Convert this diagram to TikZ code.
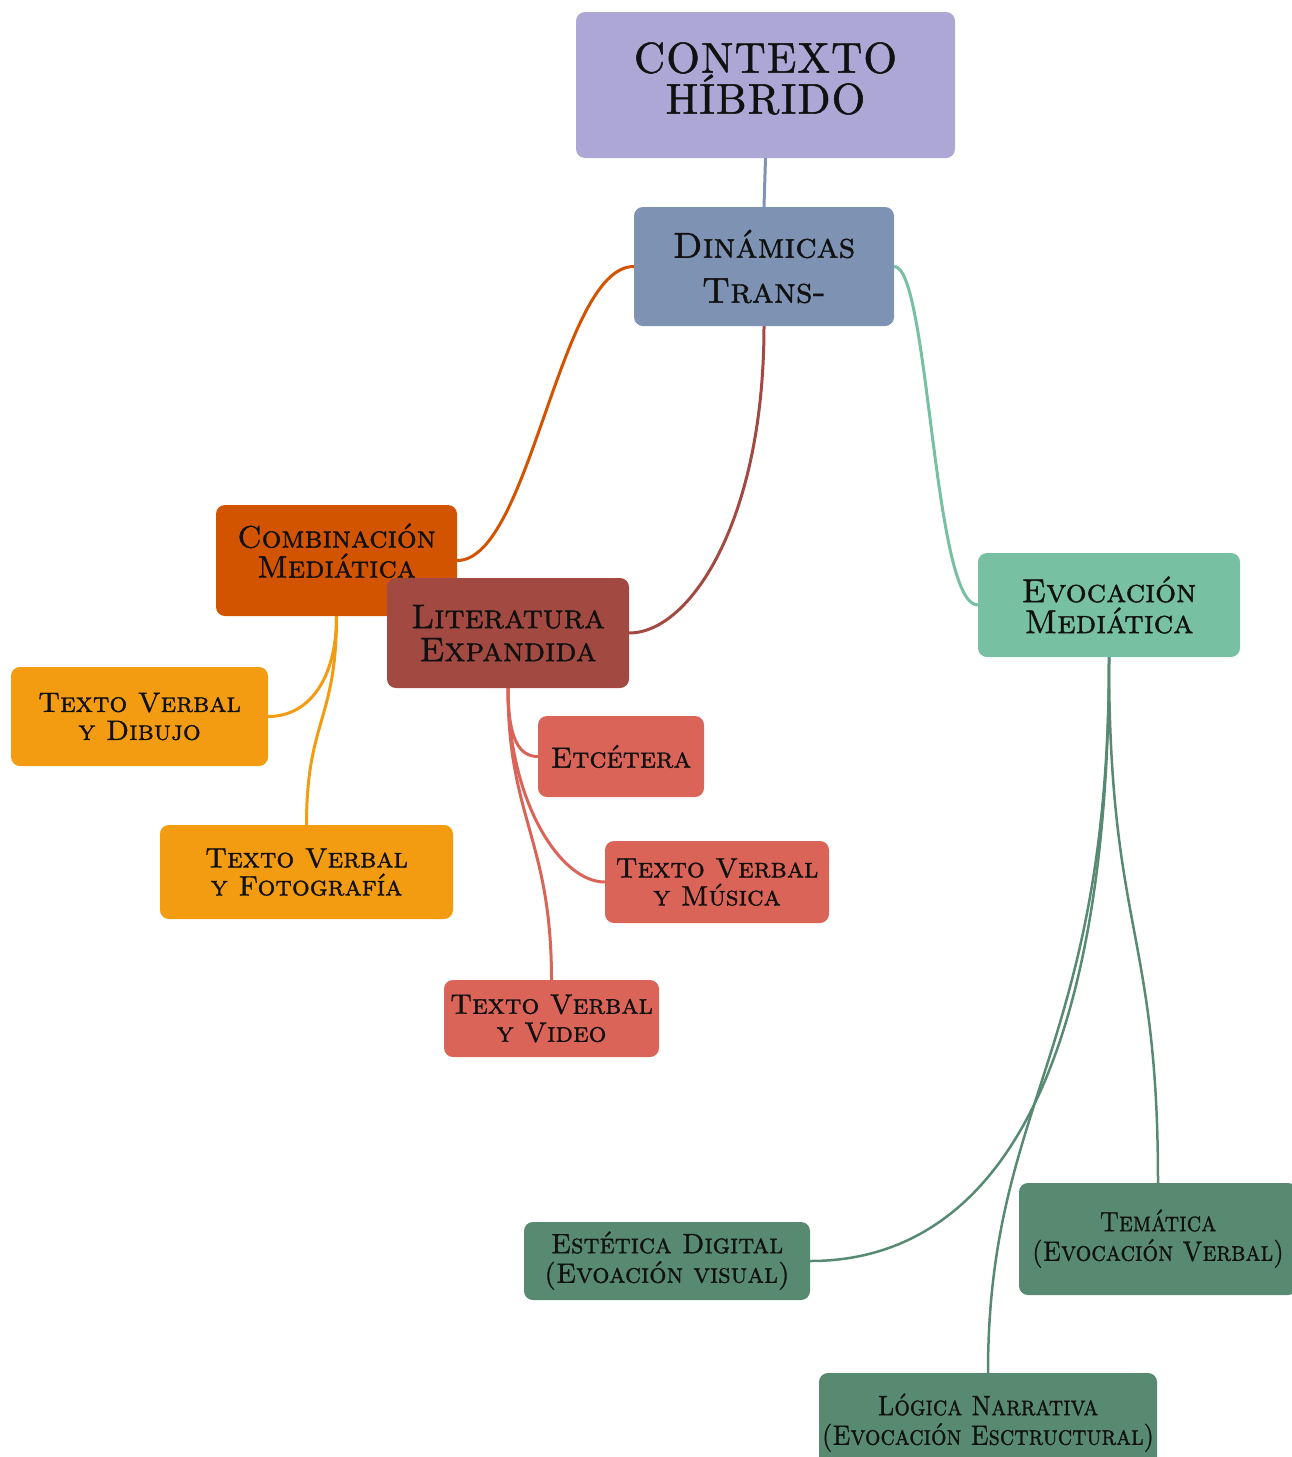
\documentclass[tikz,border=0pt]{standalone}
\usepackage{graphicx}
\usepackage{fontspec}
\newfontfamily\capsfont{lmromancaps10-regular.otf}[FakeBold=1.2]
\newfontfamily\titlefont{lmroman10-regular.otf}[FakeBold=1.2, LetterSpace=3]
\definecolor{cctx}{HTML}{ADA7D6}
\definecolor{cdyn}{HTML}{7E92B3}
\definecolor{ccom}{HTML}{D35400}
\definecolor{clit}{HTML}{A24A42}
\definecolor{cevo}{HTML}{77C0A1}
\definecolor{corg}{HTML}{F39C12}
\definecolor{cred}{HTML}{DB6459}
\definecolor{cgrn}{HTML}{578A71}
\definecolor{ctxt}{HTML}{111111}
\newcommand\condtext[2]{\scalebox{#1}[1]{\begin{tabular}{@{}c@{}}#2\end{tabular}}}
\pgfdeclarelayer{bg}
\pgfsetlayers{bg,main}
\tikzset{
  box/.style={rectangle, rounded corners=9pt, draw=none, text=ctxt, align=center, inner sep=0pt},
  link/.style={line width=3pt, line cap=round},
  thinlink/.style={line width=2.5pt, line cap=round},
}
\begin{document}
\begin{tikzpicture}[x=1pt,y=-1pt]
\useasboundingbox (0,0) rectangle (1291,1457);
\node[box, fill=cctx, minimum width=379pt, minimum height=146pt, font=\titlefont\fontsize{43}{40}\selectfont] (ctx) at (765.5,85) {CONTEXTO\\HÍBRIDO\rule[-14pt]{0pt}{1pt}};
\node[box, fill=cdyn, minimum width=260pt, minimum height=119pt, font=\capsfont\fontsize{36}{45}\selectfont] (dyn) at (764,266.5) {Dinámicas\\Trans-};
\node[box, fill=ccom, minimum width=241pt, minimum height=111pt, font=\capsfont\fontsize{31}{30}\selectfont] (com) at (336.5,560.5) {Combinación\\Mediática\rule[-20pt]{0pt}{1pt}};
\node[box, fill=clit, minimum width=242pt, minimum height=110pt, font=\capsfont\fontsize{34}{33}\selectfont] (lit) at (508,633) {Literatura\\Expandida};
\node[box, fill=cevo, minimum width=262pt, minimum height=104pt, font=\capsfont\fontsize{33}{31}\selectfont] (evo) at (1109,605) {Evocación\\Mediática};
\node[box, fill=corg, minimum width=257pt, minimum height=99pt, font=\capsfont\fontsize{28}{28}\selectfont] (dib) at (139.5,716.5) {Texto Verbal\\y Dibujo};
\node[box, fill=corg, minimum width=293pt, minimum height=94pt, font=\capsfont\fontsize{28}{28}\selectfont] (foto) at (306.5,872) {Texto Verbal\\y Fotografía};
\node[box, fill=cred, minimum width=166pt, minimum height=81pt, font=\capsfont\fontsize{29}{24}\selectfont] (etc) at (621,756.5) {Etcétera};
\node[box, fill=cred, minimum width=224pt, minimum height=82pt, font=\capsfont\fontsize{28}{28}\selectfont] (mus) at (717,882) {Texto Verbal\\y Música};
\node[box, fill=cred, minimum width=215pt, minimum height=77pt, font=\capsfont\fontsize{28}{28}\selectfont] (vid) at (551.5,1018.5) {Texto Verbal\\y Video};
\node[box, fill=cgrn, minimum width=286pt, minimum height=78pt, font=\capsfont\fontsize{28}{26}\selectfont] (est) at (667,1261) {\condtext{0.97}{Estética Digital\\(Evoación visual)}};
\node[box, fill=cgrn, minimum width=278pt, minimum height=112pt, font=\capsfont\fontsize{28}{26}\selectfont] (tem) at (1158,1239) {\condtext{0.88}{Temática\\(Evocación Verbal)}\rule[-12pt]{0pt}{1pt}};
\node[box, fill=cgrn, minimum width=338pt, minimum height=100pt, font=\capsfont\fontsize{28}{26}\selectfont] (log) at (988,1423) {\condtext{0.87}{Lógica Narrativa\\(Evocación Esctructural)}};
\begin{pgfonlayer}{bg}
\draw[link, cdyn] (ctx.south) -- (dyn.north);
\draw[link, ccom] (dyn.west) .. controls +(-74,0) and +(73,0) .. (com.east);
\draw[link, clit] (dyn.south) .. controls +(0,194) and +(61,0) .. (lit.east);
\draw[link, cevo] (dyn.east) .. controls +(35,0) and +(-45,0) .. (evo.west);
\draw[link, corg] (com.south) .. controls +(0,64) and +(40,0) .. (dib.east);
\draw[link, corg] (com.south) .. controls +(0,104) and +(0,-104) .. (foto.north);
\draw[link, cred] (lit.south) .. controls +(0,52) and +(-18,0) .. (etc.west);
\draw[link, cred] (lit.south) .. controls +(0,112) and +(-45,0) .. (mus.west);
\draw[link, cred] (lit.south) .. controls +(0,130) and +(0,-140) .. (vid.north);
\draw[thinlink, cgrn] (evo.south) .. controls +(0,443) and +(170,0) .. (est.east);
\draw[thinlink, cgrn] (evo.south) .. controls +(0,393) and +(0,-273) .. (log.north);
\draw[thinlink, cgrn] (evo.south) .. controls +(0,273) and +(0,-253) .. (tem.north);
\end{pgfonlayer}
\end{tikzpicture}
\end{document}
